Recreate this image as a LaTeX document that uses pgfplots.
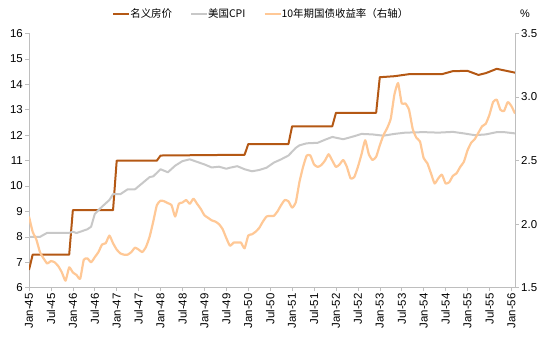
\documentclass[border=0pt]{standalone}
\usepackage{pgfplots}
\pgfplotsset{compat=1.18}
\usepackage{fontspec}
\setmainfont{Liberation Sans}
\newfontfamily\cjk{Noto Sans CJK SC}
\definecolor{cBrown}{RGB}{180,88,20}
\definecolor{cGray}{RGB}{200,200,200}
\definecolor{cOrange}{RGB}{255,200,150}
\definecolor{cAxis}{RGB}{190,190,190}
\begin{document}
\begin{tikzpicture}
\path[use as bounding box] (-29bp,-49.3bp) rectangle (521bp,287.7bp);
\pgfplotsset{
  every axis/.append style={
    scale only axis, width=486bp, height=254.2bp,
    at={(0,0)}, anchor=south west,
    xmin=0, xmax=133,
    tick align=outside, major tick length=3.5bp,
    every tick/.style={cAxis, line width=0.6bp},
    axis line style={cAxis, line width=0.8bp},
    tick label style={font=\fontsize{11.5}{13}\selectfont},
    /pgf/number format/assume math mode=true,
  }
}
\begin{axis}[
  axis x line*=bottom, axis y line*=left,
  ymin=6, ymax=16, ytick={6,7,...,16},
  xtick={0,6,...,132},
  xticklabels={Jan-45,Jul-45,Jan-46,Jul-46,Jan-47,Jul-47,Jan-48,Jul-48,Jan-49,Jul-49,Jan-50,Jul-50,Jan-51,Jul-51,Jan-52,Jul-52,Jan-53,Jul-53,Jan-54,Jul-54,Jan-55,Jul-55,Jan-56},
  xticklabel style={rotate=90, anchor=east, inner sep=2bp},
  yticklabel style={inner sep=2.5bp},
  legend style={at={(0.478,1.077)}, anchor=center, draw=none, fill=none,
    legend columns=3, font=\cjk\fontsize{10.5}{12}\selectfont,
    /tikz/every even column/.append style={column sep=16bp},
    /tikz/every odd column/.append style={column sep=-2bp},
    inner sep=0pt},
  legend cell align=left,
  legend image code/.code={\draw[#1] (0bp,0bp) -- (16bp,0bp);},
]
\addplot[cBrown, line width=2bp, line join=round] coordinates {
(0,6.7)(1,7.3)(11,7.3)(12,9.05)(23,9.05)(24,11.0)(35,11.0)(36,11.2)(59,11.23)(60,11.65)
(71,11.65)(72,12.35)(83,12.35)(84,12.88)(95,12.88)(96,14.28)(100,14.32)(104,14.40)(113,14.40)
(116,14.52)(120,14.53)(123,14.37)(125,14.44)(128,14.61)(133,14.46)};
\addlegendentry{名义房价}
\addplot[cGray, line width=2bp, line join=round] coordinates {
(0,8.0)(3,8.0)(5,8.16)(11,8.16)(12,8.2)(13,8.15)(16,8.3)(17,8.4)(18,8.9)(19,9.05)(20,9.19)
(22,9.45)(23,9.68)(25,9.68)(27,9.87)(29,9.87)(31,10.11)(33,10.35)(34,10.38)(36,10.66)(38,10.54)
(40,10.8)(42,10.98)(44,11.05)(46,10.95)(48,10.85)(50,10.73)(52,10.76)(54,10.68)(55,10.72)
(57,10.78)(59,10.66)(61,10.58)(63,10.63)(65,10.72)(67,10.92)(69,11.05)(71,11.2)(73,11.5)
(74,11.6)(76,11.68)(79,11.7)(81,11.82)(83,11.93)(86,11.84)(89,11.96)(91,12.05)(94,12.03)
(97,11.98)(100,12.05)(103,12.1)(108,12.12)(112,12.1)(116,12.13)(119,12.07)(122,12.0)(125,12.03)
(128,12.12)(130,12.12)(133,12.07)};
\addlegendentry{美国CPI}
\addlegendimage{cOrange, line width=2.2bp}
\addlegendentry{10年期国债收益率（右轴）}
\end{axis}
\begin{axis}[
  axis y line*=right, axis x line=none,
  ymin=1.5, ymax=3.5, ytick={1.5,2.0,2.5,3.0,3.5},
  yticklabel style={/pgf/number format/fixed, /pgf/number format/fixed zerofill,
    /pgf/number format/precision=1, inner sep=2.5bp},
]
\addplot[cOrange, line width=2.2bp, line join=round, smooth, tension=0.3] coordinates {
(0,2.06)(1,1.94)(2,1.88)(3,1.78)(4,1.73)(5,1.69)(6,1.71)(7,1.70)(8,1.67)(9,1.62)(10,1.555)
(11,1.66)(12,1.62)(13,1.6)(14,1.57)(15,1.72)(16,1.73)(17,1.70)(18,1.74)(19,1.78)(20,1.84)
(21,1.85)(22,1.91)(23,1.85)(24,1.80)(25,1.77)(26,1.76)(27,1.76)(28,1.78)(29,1.815)(30,1.80)
(31,1.78)(32,1.82)(33,1.90)(34,2.02)(35,2.15)(36,2.185)(37,2.18)(38,2.165)(39,2.15)(40,2.06)
(41,2.16)(42,2.17)(43,2.19)(44,2.16)(45,2.20)(46,2.16)(47,2.12)(48,2.07)(49,2.05)(50,2.03)
(51,2.02)(52,2.00)(53,1.96)(54,1.89)(55,1.83)(56,1.855)(57,1.855)(58,1.855)(59,1.81)(60,1.91)
(61,1.92)(62,1.94)(63,1.97)(64,2.02)(65,2.06)(66,2.065)(67,2.065)(68,2.10)(69,2.15)(70,2.19)
(71,2.18)(72,2.13)(73,2.17)(74,2.33)(75,2.45)(76,2.54)(77,2.54)(78,2.47)(79,2.45)(80,2.465)
(81,2.50)(82,2.55)(83,2.50)(84,2.45)(85,2.47)(86,2.505)(87,2.45)(88,2.36)(89,2.37)(90,2.45)
(91,2.55)(92,2.66)(93,2.55)(94,2.505)(95,2.53)(96,2.62)(97,2.70)(98,2.755)(99,2.83)(100,3.02)
(101,3.11)(102,2.95)(103,2.95)(104,2.90)(105,2.75)(106,2.68)(107,2.65)(108,2.52)(109,2.48)
(110,2.40)(111,2.32)(112,2.36)(113,2.39)(114,2.32)(115,2.33)(116,2.38)(117,2.40)(118,2.45)
(119,2.49)(120,2.58)(121,2.64)(122,2.67)(123,2.72)(124,2.77)(125,2.79)(126,2.86)(127,2.96)
(128,2.98)(129,2.90)(130,2.89)(131,2.96)(132,2.93)(133,2.87)};
\end{axis}
\node[font=\fontsize{11}{12}\selectfont] at (496bp,273.7bp) {\%};
\end{tikzpicture}
\end{document}
